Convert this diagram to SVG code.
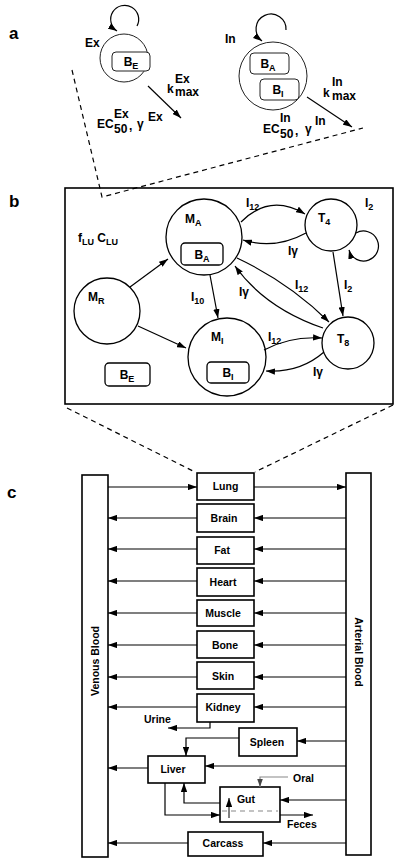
<svg xmlns="http://www.w3.org/2000/svg" width="400" height="865" viewBox="0 0 400 865">
<style>
.t{font-family:"Liberation Sans",Arial,sans-serif;font-weight:bold;fill:#000;font-size:12px}
.s{font-size:9px}
.o{font-size:10.5px}
.lab{font-size:17px}
.ln{stroke:#000;stroke-width:1.2;fill:none}
.thin{stroke:#222;stroke-width:1;fill:#fff}
.nd{stroke:#000;stroke-width:1.3;fill:#fff}
.bx{stroke:#000;stroke-width:1.6;fill:#fff}
.dash{stroke:#000;stroke-width:1.2;fill:none;stroke-dasharray:5 4}
.gr{stroke:#888;stroke-width:1.2;fill:none}
</style>
<defs>
<marker id="ah" viewBox="0 0 10 7" refX="10" refY="3.5" markerWidth="9" markerHeight="6.3" markerUnits="userSpaceOnUse" orient="auto"><path d="M0,0 L10,3.5 L0,7 z" fill="#000"/></marker>
<marker id="ahg" viewBox="0 0 10 7" refX="10" refY="3.5" markerWidth="8" markerHeight="5.6" markerUnits="userSpaceOnUse" orient="auto"><path d="M0,0 L10,3.5 L0,7 z" fill="#444"/></marker>
</defs>
<rect width="400" height="865" fill="#fff"/>

<!-- panel labels -->
<text class="t lab" x="9" y="39">a</text>
<text class="t lab" x="9" y="207">b</text>
<text class="t lab" x="7" y="498">c</text>

<!-- panel a -->
<g id="ex">
<circle class="thin" cx="124" cy="58" r="24"/>
<rect class="thin" x="112" y="52" width="38" height="19" rx="4"/>
<text class="t" x="131" y="66" text-anchor="middle">B<tspan class="s" dy="3">E</tspan></text>
<text class="t" x="85" y="47">Ex</text>
</g>
<g id="in">
<circle class="thin" cx="273" cy="76" r="34"/>
<rect class="thin" x="250" y="53" width="39" height="21" rx="4"/>
<text class="t" x="268" y="68" text-anchor="middle">B<tspan class="s" dy="3">A</tspan></text>
<rect class="thin" x="260" y="79" width="39" height="21" rx="4"/>
<text class="t" x="278" y="94" text-anchor="middle">B<tspan class="s" dy="3">I</tspan></text>
<text class="t" x="225" y="43">In</text>
</g>
<g id="a-connectors">
<path class="ln" d="M137 26 A14 14 0 1 0 117 31" marker-end="url(#ah)"/>
<path class="ln" d="M286 30 A15 15 0 1 0 262 41" marker-end="url(#ah)"/>
<line class="ln" x1="148" y1="86" x2="181" y2="118" marker-end="url(#ah)"/>
<line class="ln" x1="307" y1="97" x2="352" y2="127" marker-end="url(#ah)"/>
<path class="dash" d="M72 70 L102 197 L363 128"/>
</g>
<g id="a-labels">
<text class="t" x="167" y="93">k</text>
<text class="t" x="175" y="83">Ex</text>
<text class="t" x="175" y="96" font-size="10">max</text>
<text class="t" x="97" y="128">EC</text>
<text class="t" x="114" y="118">Ex</text>
<text class="t" x="114" y="133" font-size="10">50</text>
<text class="t" x="129" y="130">,</text>
<text class="t" x="137" y="128">γ</text>
<text class="t" x="148" y="121">Ex</text>
<text class="t" x="323" y="97">k</text>
<text class="t" x="332" y="86">In</text>
<text class="t" x="332" y="100" font-size="10">max</text>
<text class="t" x="263" y="133">EC</text>
<text class="t" x="280" y="122">In</text>
<text class="t" x="280" y="138" font-size="10">50</text>
<text class="t" x="295" y="135">,</text>
<text class="t" x="305" y="133">γ</text>
<text class="t" x="315" y="125">In</text>
</g>

<!-- panel b -->
<rect x="65" y="188" width="328" height="216" fill="none" stroke="#000" stroke-width="1.6"/>
<text class="t" x="78" y="242">f<tspan class="s" dy="3">LU</tspan><tspan dy="-3"> C</tspan><tspan class="s" dy="3">LU</tspan></text>
<g id="MR">
<circle class="nd" cx="107" cy="311" r="33"/>
<text class="t" x="88" y="301" font-size="13">M<tspan class="s" dy="3">R</tspan></text>
</g>
<g id="MA">
<circle class="nd" cx="204" cy="237" r="38"/>
<text class="t" x="185" y="223" font-size="13">M<tspan class="s" dy="3">A</tspan></text>
<rect class="nd" x="181" y="243" width="42" height="22" rx="4"/>
<text class="t" x="202" y="259" text-anchor="middle" font-size="13">B<tspan class="s" dy="3">A</tspan></text>
</g>
<g id="MI">
<circle class="nd" cx="227" cy="357" r="39"/>
<text class="t" x="211" y="341" font-size="13">M<tspan class="s" dy="3">I</tspan></text>
<rect class="nd" x="207" y="362" width="42" height="21" rx="4"/>
<text class="t" x="228" y="377" text-anchor="middle" font-size="13">B<tspan class="s" dy="3">I</tspan></text>
</g>
<g id="T4">
<circle class="nd" cx="331" cy="225" r="26"/>
<text class="t" x="318" y="222" font-size="13">T<tspan class="s" dy="3">4</tspan></text>
</g>
<g id="T8">
<circle class="nd" cx="348" cy="343" r="26"/>
<text class="t" x="337" y="343" font-size="13">T<tspan class="s" dy="3">8</tspan></text>
</g>
<g id="BE">
<rect class="nd" x="105" y="363" width="45" height="23" rx="4"/>
<text class="t" x="127" y="379" text-anchor="middle" font-size="13">B<tspan class="s" dy="3">E</tspan></text>
</g>
<g id="b-connectors">
<line class="ln" x1="130" y1="287" x2="168" y2="259" marker-end="url(#ah)"/>
<line class="ln" x1="138" y1="326" x2="186" y2="348" marker-end="url(#ah)"/>
<line class="ln" x1="210" y1="275" x2="218" y2="318" marker-end="url(#ah)"/>
<path class="ln" d="M241 222 Q270 193 305 214" marker-end="url(#ah)"/>
<path class="ln" d="M306 233 Q275 250 243 240" marker-end="url(#ah)"/>
<path class="ln" d="M356 233 A15 15 0 1 1 349 250" marker-end="url(#ah)"/>
<line class="ln" x1="333" y1="252" x2="343" y2="316" marker-end="url(#ah)"/>
<path class="ln" d="M237 258 Q290 283 329 322" marker-end="url(#ah)"/>
<path class="ln" d="M323 328 Q265 308 235 266" marker-end="url(#ah)"/>
<path class="ln" d="M264 350 Q290 336 322 338" marker-end="url(#ah)"/>
<path class="ln" d="M324 352 Q300 373 266 371" marker-end="url(#ah)"/>
<path class="dash" d="M67 408 L195 472"/>
<path class="dash" d="M393 405 L255 472"/>
</g>
<g id="b-labels">
<text class="t" x="246" y="207">I<tspan class="s" dy="3">12</tspan></text>
<text class="t" x="288" y="255">Iγ</text>
<text class="t" x="365" y="207">I<tspan class="s" dy="3">2</tspan></text>
<text class="t" x="344" y="289">I<tspan class="s" dy="3">2</tspan></text>
<text class="t" x="295" y="289">I<tspan class="s" dy="3">12</tspan></text>
<text class="t" x="239" y="296">Iγ</text>
<text class="t" x="191" y="301">I<tspan class="s" dy="3">10</tspan></text>
<text class="t" x="268" y="341">I<tspan class="s" dy="3">12</tspan></text>
<text class="t" x="313" y="376">Iγ</text>
</g>

<!-- panel c -->
<g id="venous">
<rect class="bx" x="82" y="475" width="26" height="382"/>
<text class="t o" transform="translate(99 661) rotate(-90)" text-anchor="middle">Venous Blood</text>
</g>
<g id="arterial">
<rect class="bx" x="346" y="473" width="25" height="382"/>
<text class="t o" transform="translate(355 652) rotate(90)" text-anchor="middle">Arterial Blood</text>
</g>
<g id="lung"><rect class="bx" x="197" y="473" width="57" height="27"/><text class="t o" x="225.5" y="490" text-anchor="middle">Lung</text></g>
<g id="brain"><rect class="bx" x="197" y="504" width="57" height="28"/><text class="t o" x="224" y="522" text-anchor="middle">Brain</text></g>
<g id="fat"><rect class="bx" x="197" y="537" width="57" height="27"/><text class="t o" x="222" y="554" text-anchor="middle">Fat</text></g>
<g id="heart"><rect class="bx" x="197" y="568" width="57" height="28"/><text class="t o" x="223" y="586" text-anchor="middle">Heart</text></g>
<g id="muscle"><rect class="bx" x="197" y="600" width="57" height="26"/><text class="t o" x="223" y="617" text-anchor="middle">Muscle</text></g>
<g id="bone"><rect class="bx" x="197" y="631" width="57" height="27"/><text class="t o" x="225" y="649" text-anchor="middle">Bone</text></g>
<g id="skin"><rect class="bx" x="197" y="662" width="57" height="27"/><text class="t o" x="223" y="680" text-anchor="middle">Skin</text></g>
<g id="kidney"><rect class="bx" x="197" y="694" width="57" height="28"/><text class="t o" x="223" y="711" text-anchor="middle">Kidney</text></g>
<g id="spleen"><rect class="bx" x="239" y="728" width="58" height="28"/><text class="t o" x="267" y="746" text-anchor="middle">Spleen</text></g>
<g id="liver"><rect class="bx" x="148" y="756" width="57" height="27"/><text class="t o" x="173" y="773" text-anchor="middle">Liver</text></g>
<g id="gut"><rect class="bx" x="220" y="787" width="60" height="35"/><text class="t o" x="246" y="803" text-anchor="middle">Gut</text>
<line x1="222" y1="811" x2="278" y2="811" stroke="#888" stroke-width="1.2" stroke-dasharray="5 4"/>
<line x1="229" y1="818" x2="229" y2="798" stroke="#000" stroke-width="1" marker-end="url(#ah)"/>
</g>
<g id="carcass"><rect class="bx" x="188" y="832" width="75" height="24"/><text class="t o" x="223" y="847" text-anchor="middle">Carcass</text></g>
<g id="c-connectors">
<line class="ln" x1="108" y1="487" x2="197" y2="487" marker-end="url(#ah)"/>
<line class="ln" x1="254" y1="487" x2="346" y2="487" marker-end="url(#ah)"/>
<line class="ln" x1="346" y1="518" x2="254" y2="518" marker-end="url(#ah)"/>
<line class="ln" x1="197" y1="518" x2="108" y2="518" marker-end="url(#ah)"/>
<line class="ln" x1="346" y1="549" x2="254" y2="549" marker-end="url(#ah)"/>
<line class="ln" x1="197" y1="549" x2="108" y2="549" marker-end="url(#ah)"/>
<line class="ln" x1="346" y1="581" x2="254" y2="581" marker-end="url(#ah)"/>
<line class="ln" x1="197" y1="581" x2="108" y2="581" marker-end="url(#ah)"/>
<line class="ln" x1="346" y1="613" x2="254" y2="613" marker-end="url(#ah)"/>
<line class="ln" x1="197" y1="613" x2="108" y2="613" marker-end="url(#ah)"/>
<line class="ln" x1="346" y1="645" x2="254" y2="645" marker-end="url(#ah)"/>
<line class="ln" x1="197" y1="645" x2="108" y2="645" marker-end="url(#ah)"/>
<line class="ln" x1="346" y1="677" x2="254" y2="677" marker-end="url(#ah)"/>
<line class="ln" x1="197" y1="677" x2="108" y2="677" marker-end="url(#ah)"/>
<line class="ln" x1="346" y1="707" x2="254" y2="707" marker-end="url(#ah)"/>
<line class="ln" x1="197" y1="707" x2="108" y2="707" marker-end="url(#ah)"/>
<path class="ln" d="M210 722 V728 H168" marker-end="url(#ah)"/>
<line class="ln" x1="346" y1="741" x2="297" y2="741" marker-end="url(#ah)"/>
<path class="ln" d="M239 738 H186 V756" marker-end="url(#ah)"/>
<line class="ln" x1="346" y1="766" x2="205" y2="766" marker-end="url(#ah)"/>
<line class="ln" x1="148" y1="768" x2="108" y2="768" marker-end="url(#ah)"/>
<path class="gr" d="M288 777 H260 V787" marker-end="url(#ahg)"/>
<line class="ln" x1="346" y1="800" x2="280" y2="800" marker-end="url(#ah)"/>
<path class="ln" d="M220 803 H184 V783" marker-end="url(#ah)"/>
<path class="ln" d="M165 783 V815 H220" marker-end="url(#ah)"/>
<line class="ln" x1="280" y1="815" x2="313" y2="815" marker-end="url(#ah)"/>
<line class="ln" x1="346" y1="843" x2="263" y2="843" marker-end="url(#ah)"/>
<line class="ln" x1="188" y1="843" x2="108" y2="843" marker-end="url(#ah)"/>
</g>
<g id="c-labels">
<text class="t o" x="144" y="723">Urine</text>
<text class="t o" x="293" y="782">Oral</text>
<text class="t o" x="287" y="828">Feces</text>
</g>
</svg>
